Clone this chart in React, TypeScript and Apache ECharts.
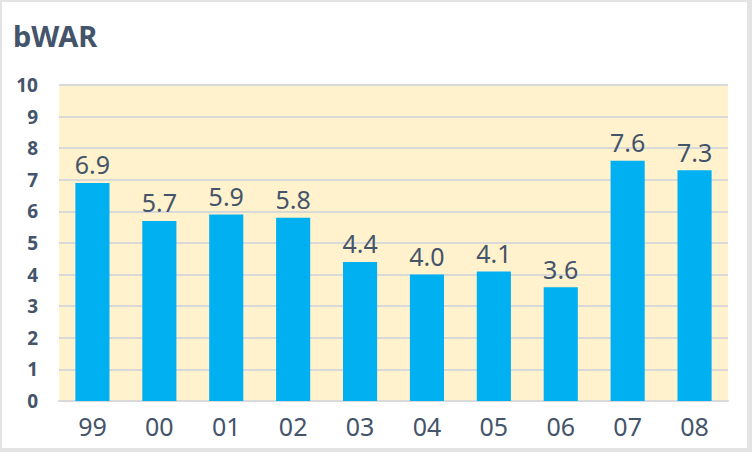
import React, { useEffect, useRef } from "react";
import * as echarts from "echarts";

const categories = ["99", "00", "01", "02", "03", "04", "05", "06", "07", "08"];
const bwar = [6.9, 5.7, 5.9, 5.8, 4.4, 4.0, 4.1, 3.6, 7.6, 7.3];
const yTicks = { min: 0, max: 10, interval: 1 };

const TEXT = "#44546A";
const FONT = "'Noto Sans', 'Open Sans', sans-serif";

export default function App() {
  const ref = useRef<HTMLDivElement>(null);
  useEffect(() => {
    if (!ref.current) return;
    const chart = echarts.init(ref.current, null, { renderer: "svg" });
    chart.setOption({
      animation: false,
      backgroundColor: "#ffffff",
      title: {
        text: "bWAR",
        left: 6,
        top: 14,
        textStyle: { color: TEXT, fontSize: 29, fontWeight: "bold", fontFamily: FONT },
      },
      grid: { left: 57, right: 19, top: 83, bottom: 47, show: true, backgroundColor: "#FFF2CC", borderWidth: 0 },
      xAxis: {
        type: "category",
        data: categories,
        axisTick: { show: false },
        axisLine: { show: true, lineStyle: { color: "#D9D9D9", width: 2 } },
        axisLabel: { color: TEXT, fontSize: 25, fontFamily: FONT, margin: 12 },
      },
      yAxis: {
        type: "value",
        min: yTicks.min,
        max: yTicks.max,
        interval: yTicks.interval,
        axisLine: { show: false },
        axisTick: { show: false },
        splitLine: { lineStyle: { color: "#D9D9D9", width: 2 } },
        axisLabel: { color: TEXT, fontSize: 19, fontWeight: "bold", fontFamily: FONT, margin: 21 },
      },
      series: [
        {
          type: "bar",
          data: bwar,
          barWidth: "51%",
          itemStyle: { color: "#00B0F0" },
          label: {
            show: true,
            position: "top",
            distance: 6,
            color: TEXT,
            fontSize: 25,
            fontFamily: FONT,
            formatter: (p: any) => p.value.toFixed(1),
          },
        },
      ],
    });
    return () => chart.dispose();
  }, []);
  return (
    <div
      style={{
        position: "fixed",
        left: 0,
        top: 0,
        width: 752,
        height: 452,
        boxSizing: "border-box",
        borderTop: "2px solid #E3E3E3",
        borderLeft: "2px solid #E3E3E3",
        borderRight: "5px solid #E3E3E3",
        borderBottom: "4px solid #E3E3E3",
        background: "#fff",
      }}
    >
      <div ref={ref} style={{ width: 745, height: 446 }} />
    </div>
  );
}
